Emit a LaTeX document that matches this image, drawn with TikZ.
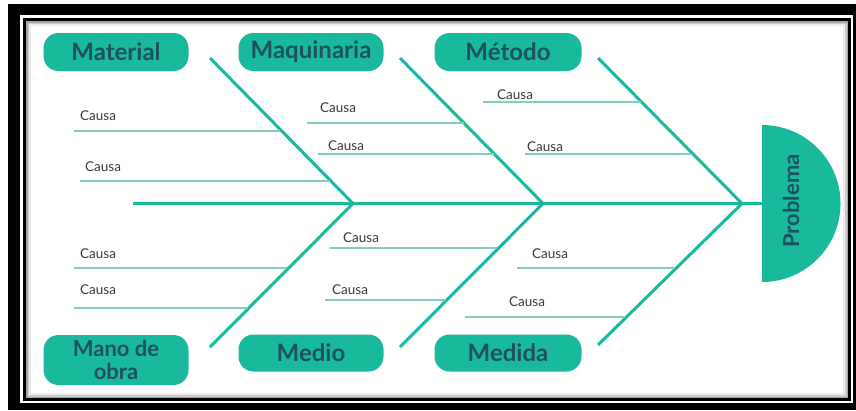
\documentclass[tikz,border=0pt]{standalone}
\usepackage{fontspec}
\setmainfont{Lato}
\definecolor{teal1}{HTML}{19B99E}
\definecolor{tealline}{HTML}{7FCFC1}
\definecolor{lbltext}{HTML}{1E5062}
\definecolor{causatext}{HTML}{3A3A3A}
\begin{document}
\begin{tikzpicture}[x=1pt,y=-1pt,
  pill/.style={fill=teal1, rounded corners=15pt, minimum width=145pt, minimum height=38pt, inner sep=0pt, font=\fontsize{24}{21}\selectfont\bfseries, text=lbltext, align=center},
  bone/.style={draw=teal1, line width=3pt},
  causeline/.style={draw=tealline, line width=1.3pt},
  causa/.style={anchor=west, inner sep=0pt, font=\fontsize{13.5}{14}\selectfont, text=causatext}]
\useasboundingbox (0,0) rectangle (856,410);
% frame
\fill[white] (0,0) rectangle (856,410);
\fill[black] (8,4) rectangle (856,410);
\fill[white] (20,15) rectangle (853,403);
\fill[black] (23,18) rectangle (851,401);
\fill[gray!70] (26,21) rectangle (848,398);
\fill[gray!40] (27.5,22.5) rectangle (846.5,396.5);
\fill[gray!15] (29,24) rectangle (845,395);
\fill[white] (31,26) rectangle (843,393);
% head
\coordinate (head) at (762,203.5);
\fill[teal1] (762,125) arc[start angle=-90, end angle=90, radius=78.5] -- cycle;
\node[rotate=90, font=\fontsize{22}{22}\selectfont\bfseries, text=lbltext] (prob) at (791,201) {Problema};
% spine and bones
\coordinate (tail) at (133,203.5);
\coordinate (j1) at (353,203.5);
\coordinate (j2) at (543,203.5);
\coordinate (j3) at (742,203.5);
\coordinate (u1) at (210,58);
\coordinate (u2) at (400,58);
\coordinate (u3) at (598,58);
\coordinate (l1) at (210,347);
\coordinate (l2) at (400,347);
\coordinate (l3) at (598,345);
\draw[bone] (tail) -- (head);
\draw[bone] (u1) -- (j1);
\draw[bone] (u2) -- (j2);
\draw[bone] (u3) -- (j3);
\draw[bone] (l1) -- (j1);
\draw[bone] (l2) -- (j2);
\draw[bone] (l3) -- (j3);
% category labels
\node[pill] (mat) at (116,52) {Material};
\node[pill] (maq) at (311,52) {Maquinaria};
\node[pill, minimum width=147pt] (met) at (508,52) {Método};
\node[pill, minimum height=50pt, font=\fontsize{22}{22.5}\selectfont\bfseries] (mano) at (116,360) {Mano de\\obra};
\node[pill, minimum height=37pt] (medio) at (311,353) {Medio};
\node[pill, minimum width=147pt, minimum height=37pt] (medida) at (508,353) {Medida};
% causes: upper left
\node[causa] (c1) at (80,116) {Causa};
\coordinate (c1a) at (74,131); \coordinate (c1b) at (280,131);
\draw[causeline] (c1a) -- (c1b);
\node[causa] (c2) at (85,167) {Causa};
\coordinate (c2a) at (80,181); \coordinate (c2b) at (330,181);
\draw[causeline] (c2a) -- (c2b);
% upper middle
\node[causa] (c3) at (320,108) {Causa};
\coordinate (c3a) at (307,123); \coordinate (c3b) at (464,123);
\draw[causeline] (c3a) -- (c3b);
\node[causa] (c4) at (328,146) {Causa};
\coordinate (c4a) at (318,154); \coordinate (c4b) at (494,154);
\draw[causeline] (c4a) -- (c4b);
% upper right
\node[causa] (c5) at (497,95) {Causa};
\coordinate (c5a) at (483,102); \coordinate (c5b) at (641,102);
\draw[causeline] (c5a) -- (c5b);
\node[causa] (c6) at (527,147) {Causa};
\coordinate (c6a) at (525,154); \coordinate (c6b) at (692,154);
\draw[causeline] (c6a) -- (c6b);
% lower left
\node[causa] (c7) at (80,254) {Causa};
\coordinate (c7a) at (74,268); \coordinate (c7b) at (287,268);
\draw[causeline] (c7a) -- (c7b);
\node[causa] (c8) at (80,290) {Causa};
\coordinate (c8a) at (74,308); \coordinate (c8b) at (248,308);
\draw[causeline] (c8a) -- (c8b);
% lower middle
\node[causa] (c9) at (343,238) {Causa};
\coordinate (c9a) at (330,248); \coordinate (c9b) at (497,248);
\draw[causeline] (c9a) -- (c9b);
\node[causa] (c10) at (332,290) {Causa};
\coordinate (c10a) at (325,300); \coordinate (c10b) at (446,300);
\draw[causeline] (c10a) -- (c10b);
% lower right
\node[causa] (c11) at (532,254) {Causa};
\coordinate (c11a) at (517,268); \coordinate (c11b) at (675,268);
\draw[causeline] (c11a) -- (c11b);
\node[causa] (c12) at (509,302) {Causa};
\coordinate (c12a) at (465,317); \coordinate (c12b) at (625,317);
\draw[causeline] (c12a) -- (c12b);
\end{tikzpicture}
\end{document}
